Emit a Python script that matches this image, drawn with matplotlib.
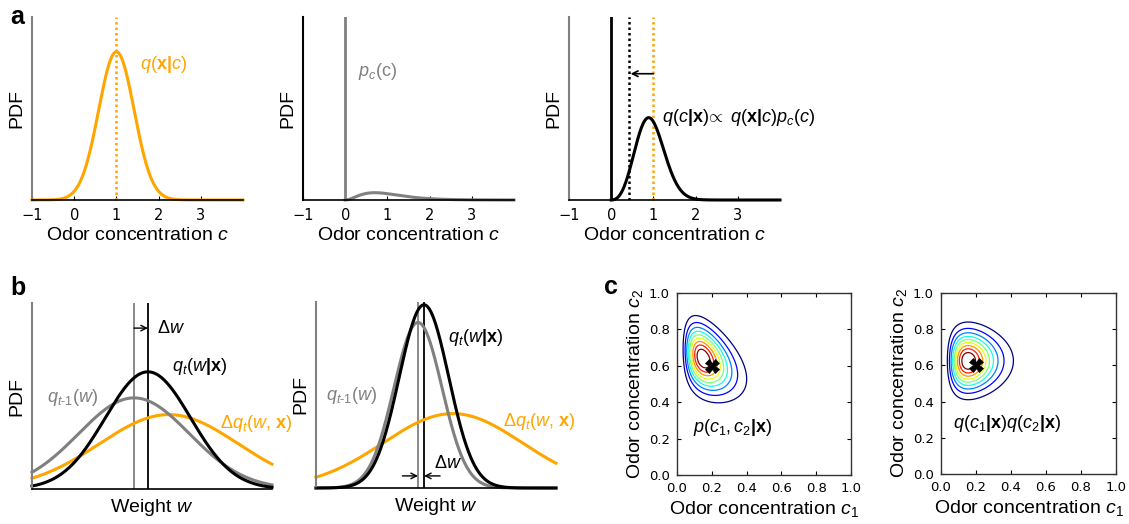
import numpy as np
import matplotlib
matplotlib.use('Agg')
import matplotlib.pyplot as plt

plt.rcParams['font.family'] = ['Liberation Sans', 'DejaVu Sans']
plt.rcParams['mathtext.fontset'] = 'custom'
plt.rcParams['mathtext.rm'] = 'Liberation Sans'
plt.rcParams['mathtext.it'] = 'Liberation Sans:italic'
plt.rcParams['mathtext.bf'] = 'Liberation Sans:bold'

ORANGE = '#FFA500'
GRAY = '#808080'
W, H = 1129, 524

# ---- values ----
# panel a (odor concentration c)
a_xticks = [-1, 0, 1, 2, 3]
lik = [1.0, 0.42, 0.81]          # q(x|c): mean, sd, peak height
prior_slab = [2.1, 0.7, 0.04]    # p_c(c) slab: shape, mode, peak height
post_peak = 0.45                 # q(c|x) peak height
post_line = 0.43                 # dotted black line
arrow_y = 0.69

# panel b (weight w on 0..1): mean, sd, peak height
b1_prev = [0.425, 0.231, 0.49]
b1_new = [0.483, 0.178, 0.63]
b1_delta = [0.57, 0.29, 0.40]
b2_prev = [0.425, 0.100, 0.89]
b2_new = [0.450, 0.103, 0.985]
b2_delta = [0.57, 0.29, 0.40]

# panel c
c_ticks = [0.0, 0.2, 0.4, 0.6, 0.8, 1.0]
c_true = [0.2, 0.6]
c_levels = [0.1, 0.2, 0.3, 0.4, 0.5, 0.6, 0.7, 0.8, 0.9]
c1_shape, c1_mode = 3.35, 0.15          # skewed marginal along c1
joint_c2_mode, joint_slope, joint_sd = 0.64, 0.45, 0.105
fact_c1_mode, fact_c2_mode, fact_sd = 0.155, 0.625, 0.10


def gauss(x, m, s, peak):
    return peak * np.exp(-(x - m) ** 2 / (2 * s ** 2))


def bump(x, n, mode, peak):
    # gamma-like bump, zero for x <= 0, max = peak at x = mode
    xp = np.clip(x, 1e-9, None)
    y = peak * (xp / mode) ** n * np.exp(-n * (xp - mode) / mode)
    return np.where(x > 0, y, 0.0)


fig = plt.figure(figsize=(W / 100, H / 100), dpi=100)


def px_axes(l, t, r, b):
    return fig.add_axes([l / W, 1 - b / H, (r - l) / W, (b - t) / H])


def style_pdf(ax, left_color=GRAY):
    for s in ['top', 'right']:
        ax.spines[s].set_visible(False)
    ax.spines['left'].set_color(left_color)
    ax.spines['left'].set_linewidth(1.5)
    ax.spines['bottom'].set_color('black')
    ax.spines['bottom'].set_linewidth(1.2)
    ax.set_ylim(0, 1)
    ax.set_yticks([])
    ax.set_ylabel('PDF', fontsize=14, labelpad=5)


def style_a(ax, left_color=GRAY):
    style_pdf(ax, left_color)
    ax.set_xlim(-1, 4)
    ax.set_xticks(a_xticks, [str(t).replace('-', '\u2212') for t in a_xticks],
                  fontfamily='DejaVu Sans')
    ax.tick_params(axis='x', direction='in', length=3, width=0.8, labelsize=10.5, pad=6)
    ax.set_xlabel('Odor concentration $c$', fontsize=14, labelpad=3)


c = np.linspace(-1, 4, 800)
dot = (0, (1, 1.2))

# a1
ax = px_axes(32, 17, 243, 200)
style_a(ax)
ax.axvline(lik[0], color=ORANGE, ls=dot, lw=1.8)
ax.plot(c, gauss(c, *lik), color=ORANGE, lw=2.2, clip_on=False)
ax.text(1.56, 0.74, r'$q(\mathbf{x|}c)$', color=ORANGE, fontsize=13, va='center')

# a2
ax = px_axes(303, 17, 514, 200)
style_a(ax, left_color='black')
ax.axvline(0, color=GRAY, lw=2)
cp = np.linspace(0, 4, 600)
ax.plot(cp, bump(cp, *prior_slab), color=GRAY, lw=2.2, clip_on=False)
ax.text(0.30, 0.70, r'$p_c(\mathrm{c})$', color=GRAY, fontsize=13, va='center')

# a3
ax = px_axes(569, 17, 780, 200)
style_a(ax)
post = gauss(cp, lik[0], lik[1], 1) * bump(cp, prior_slab[0], prior_slab[1], 1)
post = post / post.max() * post_peak
ax.axvline(0, color='black', lw=2)
ax.axvline(post_line, color='black', ls=dot, lw=1.8)
ax.axvline(lik[0], color=ORANGE, ls=dot, lw=1.8)
ax.plot(cp, post, color='black', lw=2.2, clip_on=False)
ax.annotate('', xy=(post_line + 0.03, arrow_y), xytext=(lik[0], arrow_y),
            arrowprops=dict(arrowstyle='->', color='black', lw=1.2,
                            shrinkA=0, shrinkB=0))
ax.text(1.2, 0.45, r'$q(c\mathbf{|x})\!\propto\ q(\mathbf{x|}c)p_c(c)$',
        color='black', fontsize=13, va='center')

# b
w = np.linspace(0, 1, 500)


def panel_b(ax, prev, new, delta):
    style_pdf(ax)
    ax.set_xlim(0, 1)
    ax.set_xticks([])
    ax.set_xlabel('Weight $w$', fontsize=14, labelpad=6)
    ax.axvline(prev[0], color=GRAY, lw=1.3)
    ax.axvline(new[0], color='black', lw=1.3)
    ax.plot(w, gauss(w, *delta), color=ORANGE, lw=2.2, clip_on=False)
    ax.plot(w, gauss(w, *prev), color=GRAY, lw=2.2, clip_on=False)
    ax.plot(w, gauss(w, *new), color='black', lw=2.2, clip_on=False)


ax = px_axes(32, 303, 272, 489)
panel_b(ax, b1_prev, b1_new, b1_delta)
ax.annotate('', xy=(b1_new[0], 0.865), xytext=(b1_prev[0], 0.865),
            arrowprops=dict(arrowstyle='->', color='black', lw=1, shrinkA=0, shrinkB=0))
ax.text(0.52, 0.865, r'$\Delta w$', fontsize=13, va='center')
ax.text(0.583, 0.66, r'$q_t(w\mathbf{|x})$', fontsize=13, va='center')
ax.text(0.062, 0.49, r'$q_{t\mathrm{\text{-}}1}(w)$', color=GRAY, fontsize=13, va='center')
ax.text(0.783, 0.35, r'$\Delta q_t(w,\,\mathbf{x})$', color=ORANGE, fontsize=13, va='center')

ax = px_axes(316, 302, 556, 488)
panel_b(ax, b2_prev, b2_new, b2_delta)
ax.annotate('', xy=(b2_prev[0], 0.065), xytext=(0.36, 0.065),
            arrowprops=dict(arrowstyle='->', color='black', lw=1, shrinkA=0, shrinkB=0))
ax.annotate('', xy=(b2_new[0], 0.065), xytext=(0.517, 0.065),
            arrowprops=dict(arrowstyle='->', color='black', lw=1, shrinkA=0, shrinkB=0))
ax.text(0.49, 0.134, r'$\Delta w$', fontsize=13, va='center')
ax.text(0.55, 0.81, r'$q_t(w\mathbf{|x})$', fontsize=13, va='center')
ax.text(0.04, 0.50, r'$q_{t\mathrm{\text{-}}1}(w)$', color=GRAY, fontsize=13, va='center')
ax.text(0.78, 0.355, r'$\Delta q_t(w,\,\mathbf{x})$', color=ORANGE, fontsize=13, va='center')

# c
g1 = np.linspace(0.001, 1, 400)
g2 = np.linspace(0, 1, 400)
C1, C2 = np.meshgrid(g1, g2)
jet_cols = [plt.cm.jet(i / (len(c_levels) - 1)) for i in range(len(c_levels))]

joint = bump(C1, c1_shape, c1_mode, 1) * gauss(
    C2, joint_c2_mode - joint_slope * (C1 - c1_mode), joint_sd, 1)
joint = joint / joint.max()
fact = bump(C1, c1_shape, fact_c1_mode, 1) * gauss(C2, fact_c2_mode, fact_sd, 1)
fact = fact / fact.max()


def panel_c(ax, dens, label, lx, ly):
    ax.contour(C1, C2, dens, levels=c_levels, colors=jet_cols, linewidths=0.9)
    ax.plot(c_true[0], c_true[1], marker='X', color='black', ms=10, mew=0.5)
    ax.set_xlim(0, 1)
    ax.set_ylim(0, 1)
    labels = ['%.1f' % t for t in c_ticks]
    ax.set_xticks(c_ticks, labels, fontfamily='DejaVu Sans')
    ax.set_yticks(c_ticks, labels, fontfamily='DejaVu Sans')
    ax.tick_params(direction='in', length=3, width=0.8, top=True, right=True,
                   labelsize=9.5, pad=5)
    for s in ax.spines.values():
        s.set_color('#333333')
        s.set_linewidth(1)
    ax.set_xlabel('Odor concentration $c_1$', fontsize=14, labelpad=3)
    ax.set_ylabel('Odor concentration $c_2$', fontsize=14, labelpad=3)
    ax.text(lx, ly, label, fontsize=13, va='center')


ax = px_axes(677, 293, 851, 475)
panel_c(ax, joint, r'$p(c_1,c_2\mathbf{|x})$', 0.09, 0.26)
ax = px_axes(941, 293, 1116, 474)
panel_c(ax, fact, r'$q(c_1\mathbf{|x})q(c_2\mathbf{|x})$', 0.07, 0.28)

# panel letters
for letter, x, y in [('a', 10, 24), ('b', 10, 295), ('c', 604, 294)]:
    fig.text(x / W, 1 - y / H, letter, fontsize=18, fontweight='bold', va='baseline')

fig.savefig('out.png', dpi=100)
